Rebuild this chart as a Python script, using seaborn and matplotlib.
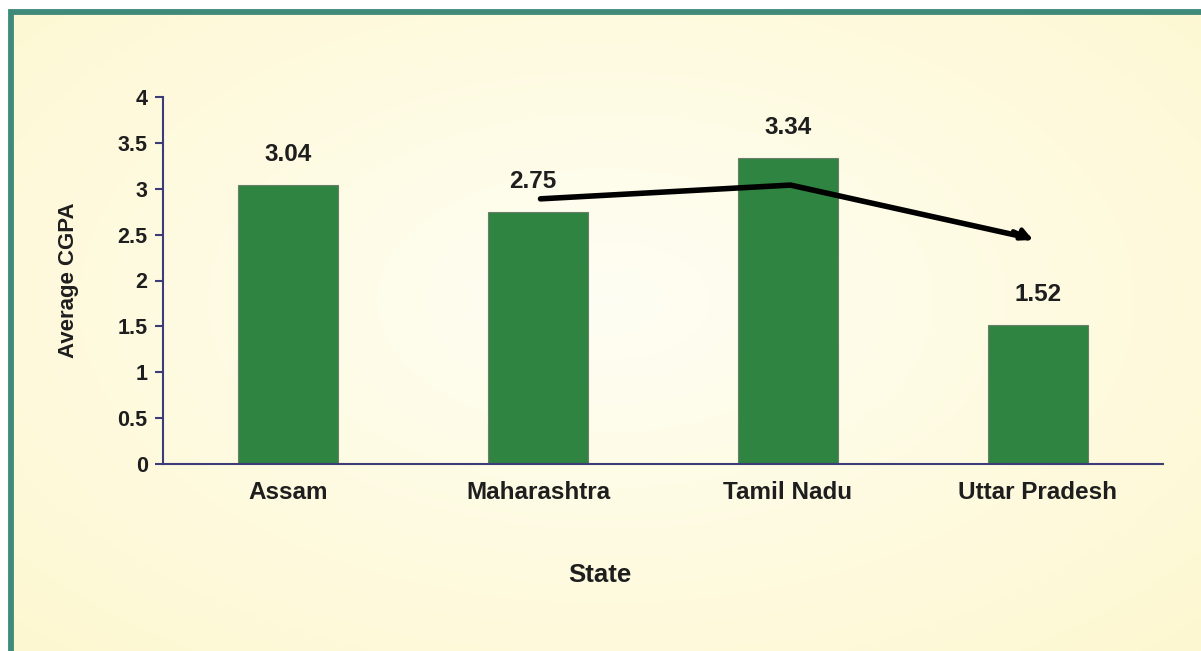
import numpy as np
import pandas as pd
import matplotlib
matplotlib.use("Agg")
import matplotlib.pyplot as plt
import seaborn as sns
from matplotlib.patches import Rectangle

states = ["Assam", "Maharashtra", "Tamil Nadu", "Uttar Pradesh"]
cgpa = [3.04, 2.75, 3.34, 1.52]
y_ticks = [0, 0.5, 1, 1.5, 2, 2.5, 3, 3.5, 4]
y_tick_labels = ["0", "0.5", "1", "1.5", "2", "2.5", "3", "3.5", "4"]
# trend arrow drawn over the chart (category index, CGPA)
arrow_x = [1.01, 2.01, 2.99]
arrow_y = [2.89, 3.04, 2.43]

sns.set_theme(style="white")
FONT = ["Liberation Sans Narrow", "Liberation Sans", "DejaVu Sans"]
plt.rcParams["font.family"] = FONT

W, H = 1201, 651
fig = plt.figure(figsize=(W / 100, H / 100), dpi=100)
fig.patch.set_facecolor("white")

# background radial gradient
bg = fig.add_axes([13 / W, 0, 1 - 13 / W, 1 - 14 / H], zorder=-5)
yy, xx = np.mgrid[0:1:300j, 0:1:600j]
r = np.sqrt(((xx - 0.5) / 0.7) ** 2 + ((yy - 0.45) / 0.75) ** 2)
r = np.clip(r, 0, 1)
c0 = np.array([1.0, 0.995, 0.955])
c1 = np.array([0.995, 0.972, 0.82])
img = c0[None, None, :] * (1 - r[..., None]) + c1[None, None, :] * r[..., None]
bg.imshow(img, aspect="auto", extent=[0, 1, 0, 1], interpolation="bicubic")
bg.axis("off")

# teal border
teal = "#3f8a78"
fig.add_artist(Rectangle((10.5 / W, -0.1), 1.2, 1 - 11.5 / H + 0.1, transform=fig.transFigure,
                         fill=False, edgecolor=teal, linewidth=4.2, zorder=10))

ax = fig.add_axes([163 / W, (H - 464) / H, 1000 / W, 367 / H])
ax.set_facecolor("none")
df = pd.DataFrame({"State": states, "CGPA": cgpa})
sns.barplot(data=df, x="State", y="CGPA", color="#2f8442", saturation=1, width=0.4,
            edgecolor="#6a7f6a", linewidth=0.8, ax=ax)

ax.set_xlim(-0.5, 3.5)
ax.set_ylim(0, 4)
ax.set_yticks(y_ticks)
ax.set_yticklabels(y_tick_labels, fontsize=15.5, fontweight="bold", color="#1e1e1e")
ax.set_xticks(range(len(states)))
ax.set_xticklabels(states, fontsize=17.5, fontweight="bold", color="#1e1e1e")
ax.set_xticks(np.arange(-0.5, 4, 1), minor=True)
ax.tick_params(axis="x", which="major", length=0, pad=12)
ax.tick_params(axis="x", which="minor", length=6, width=1.5, color="#3c3c78", direction="out")
ax.tick_params(axis="y", length=6, width=1.5, color="#3c3c78", direction="out", left=True, pad=5)

for s in ["top", "right"]:
    ax.spines[s].set_visible(False)
for s in ["left", "bottom"]:
    ax.spines[s].set_color("#3c3c78")
    ax.spines[s].set_linewidth(1.5)

ax.set_xlabel("State", fontsize=18.5, fontweight="bold", color="#1e1e1e")
ax.xaxis.set_label_coords(0.437, -0.27)
ax.set_ylabel("Average CGPA", fontsize=16, fontweight="bold", color="#1e1e1e", labelpad=28)

for i, v in enumerate(cgpa):
    ax.text(i - (0.02 if i == 1 else 0), v + 0.33, f"{v:.2f}", ha="center", va="center",
            fontsize=17.5, fontweight="bold", color="#1e1e1e")

ax.plot(arrow_x[:-1] + [arrow_x[-1] - 0.03], arrow_y[:-1] + [arrow_y[-1] + 0.035],
        color="black", lw=4, solid_capstyle="round", solid_joinstyle="round", zorder=5)
ax.annotate("", xy=(arrow_x[-1], arrow_y[-1]), xytext=(arrow_x[-1] - 0.1, arrow_y[-1] + 0.12),
            arrowprops=dict(arrowstyle="-|>,head_length=0.6,head_width=0.3", color="black", lw=3),
            zorder=6)

fig.savefig("out.png", dpi=100)
